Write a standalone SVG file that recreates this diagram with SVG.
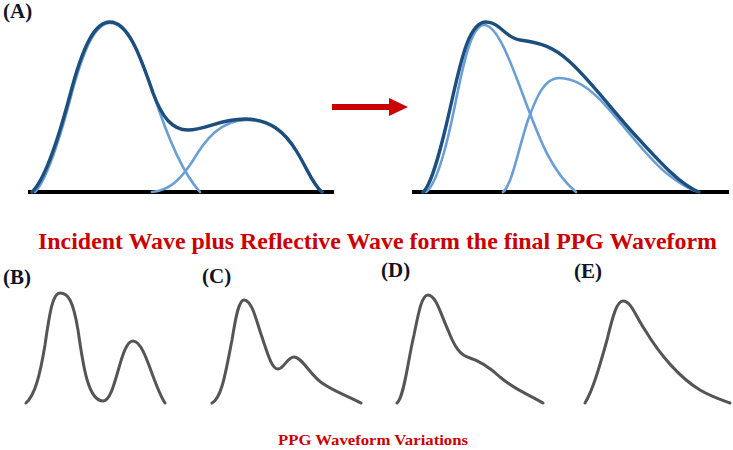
<svg xmlns="http://www.w3.org/2000/svg" width="733" height="450" viewBox="0 0 733 450">
<style>
.lbl{font-family:"Liberation Serif","Times New Roman",serif;font-weight:bold;font-size:21px;fill:#121228}
.red{font-family:"Liberation Serif","Times New Roman",serif;font-weight:bold;fill:#cc0000}
.base{stroke:#000;stroke-width:4;fill:none}
.inc{stroke:#6b9fd4;stroke-width:2.6;fill:none;stroke-linecap:round}
.sum{stroke:#1c4f7e;stroke-width:3.4;fill:none;stroke-linecap:round;stroke-linejoin:round}
.ppg{stroke:#555;stroke-width:3;fill:none;stroke-linecap:round;stroke-linejoin:round}
</style>
<rect width="733" height="450" fill="#fff"/>
<g id="panelA-left">
<line class="base" x1="28" y1="192" x2="334" y2="192"/>
<path class="inc" d="M35,192 C45,182 58,145 70,100 C83,50 95,23 110,23 C128,23 140,55 153,92 C165,130 180,170 200,192"/>
<path class="inc" d="M152,192 C170,190 180,180 192,162 C205,140 220,120 247,120 C270,120 285,132 297,152 C308,170 313,185 322,192"/>
<path class="sum" d="M32,192 C45,180 58,140 70,95 C83,45 95,22 110,22 C128,22 140,55 153,93 C162,117 172,130 188,130 C205,130 220,119 245,119 C270,119 285,132 297,152 C308,170 313,185 322,192"/>
</g>
<g id="arrow">
<line x1="332" y1="107" x2="392" y2="107" stroke="#cc0000" stroke-width="6"/>
<polygon points="389,98 408,107 389,116" fill="#cc0000"/>
</g>
<g id="panelA-right">
<line class="base" x1="412" y1="192" x2="729" y2="192"/>
<path class="inc" d="M426,192 C436,185 446,150 455,105 C464,60 472,25 484,25 C497,25 510,60 523,95 C538,135 550,170 576,192"/>
<path class="inc" d="M503,192 C512,185 518,150 528,120 C537,95 545,78 559,78 C575,78 590,88 605,105 C625,127 645,155 665,172 C680,184 690,190 699,192"/>
<path class="sum" d="M423,192 C432,185 442,145 452,100 C462,55 470,22 486,22 C500,22 505,38 520,40 C540,43 553,46 570,62 C590,80 612,110 635,135 C658,160 680,185 699,192"/>
</g>
<g id="labels">
<text class="lbl" x="3" y="18">(A)</text>
<text class="lbl" x="3" y="284">(B)</text>
<text class="lbl" x="202" y="283">(C)</text>
<text class="lbl" x="381" y="277">(D)</text>
<text class="lbl" x="574" y="278">(E)</text>
</g>
<g id="title">
<text class="red" x="38" y="249" font-size="23" textLength="679" lengthAdjust="spacingAndGlyphs">Incident Wave plus Reflective Wave form the final PPG Waveform</text>
</g>
<g id="waveB"><path class="ppg" d="M26,403 C35,395 40,375 45,345 C50,310 53,293 60,293 C68,293 73,300 78,330 C83,365 88,401 103,401 C116,401 120,341 133,341 C145,341 153,385 165,403"/></g>
<g id="waveC"><path class="ppg" d="M212,403 C222,398 226,370 232,340 C236,315 239,300 244,300 C252,300 256,320 262,337 C268,355 272,369 278,369 C284,369 287,357 294,357 C302,357 310,375 322,383 C335,392 350,397 361,403"/></g>
<g id="waveD"><path class="ppg" d="M397,403 C404,398 408,360 414,335 C419,310 422,295 428,295 C436,295 441,315 448,330 C455,348 460,355 470,358 C480,361 488,366 500,377 C515,390 530,395 543,403"/></g>
<g id="waveE"><path class="ppg" d="M585,403 C593,390 600,365 607,340 C613,315 617,301 623,301 C631,301 635,315 645,330 C660,355 680,378 700,390 C712,397 722,400 730,403"/></g>
<g id="caption">
<text class="red" x="278" y="445" font-size="14" textLength="190" lengthAdjust="spacingAndGlyphs" fill="#d41515">PPG Waveform Variations</text>
</g>
</svg>
